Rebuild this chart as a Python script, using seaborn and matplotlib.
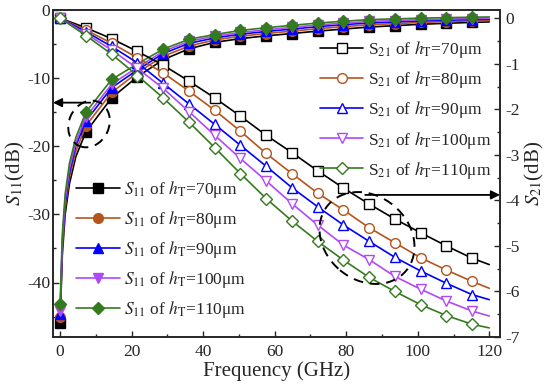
import numpy as np
import matplotlib
matplotlib.use("Agg")
import matplotlib.pyplot as plt
import seaborn as sns
from matplotlib.patches import Ellipse
from matplotlib.ticker import MultipleLocator

# frequency points (GHz): markers sit every 7.2 GHz, lines end at 120
freq_s11 = [0, 0.6, 1.4, 2.6, 4.4, 7.2, 14.4, 21.6, 28.8, 36, 43.2, 50.4, 57.6,
            64.8, 72, 79.2, 86.4, 93.6, 100.8, 108, 115.2, 120]
freq_s21 = [0, 7.2, 14.4, 21.6, 28.8, 36, 43.2, 50.4, 57.6, 64.8, 72, 79.2,
            86.4, 93.6, 100.8, 108, 115.2, 120]

heights = ["70", "80", "90", "100", "110"]

# S11 (dB), left axis
s11_70 = [-45.9, -36.0, -30.0, -25.5, -21.5, -17.9, -12.9, -9.8, -7.3, -5.7, -4.75, -4.2, -3.8,
          -3.45, -3.1, -2.8, -2.5, -2.3, -2.1, -1.95, -1.82, -1.75]
s11_80 = [-45.1, -35.2, -29.1, -24.6, -20.7, -17.0, -12.1, -9.2, -6.8, -5.3, -4.4, -3.85, -3.45,
          -3.1, -2.75, -2.45, -2.17, -2.0, -1.83, -1.7, -1.6, -1.53]
s11_90 = [-44.6, -34.5, -28.4, -23.9, -19.9, -16.3, -11.4, -8.8, -6.4, -4.9, -4.1, -3.55, -3.15,
          -2.8, -2.45, -2.15, -1.9, -1.75, -1.6, -1.5, -1.4, -1.35]
s11_100 = [-44.2, -33.9, -27.8, -23.3, -19.4, -15.7, -10.9, -8.4, -6.1, -4.6, -3.85, -3.3, -2.9,
           -2.55, -2.2, -1.93, -1.68, -1.55, -1.43, -1.33, -1.25, -1.2]
s11_110 = [-43.1, -33.0, -27.0, -22.5, -18.7, -15.0, -10.2, -7.9, -5.75, -4.3, -3.6, -3.0, -2.6,
           -2.25, -1.92, -1.65, -1.41, -1.3, -1.2, -1.12, -1.06, -1.02]

# S21 (dB), right axis
s21_70 = [0, -0.21, -0.45, -0.73, -1.03, -1.38, -1.75, -2.15, -2.57, -2.95, -3.35, -3.73,
          -4.08, -4.41, -4.71, -5.0, -5.27, -5.41]
s21_80 = [0, -0.26, -0.55, -0.87, -1.20, -1.60, -2.02, -2.48, -2.97, -3.41, -3.84, -4.21,
          -4.6, -4.93, -5.26, -5.53, -5.78, -5.93]
s21_90 = [0, -0.3, -0.62, -0.98, -1.43, -1.88, -2.33, -2.79, -3.25, -3.72, -4.14, -4.54,
          -4.9, -5.25, -5.55, -5.82, -6.07, -6.18]
s21_100 = [0, -0.34, -0.7, -1.1, -1.54, -2.05, -2.57, -3.08, -3.57, -4.07, -4.54, -4.98,
           -5.3, -5.67, -5.95, -6.21, -6.43, -6.54]
s21_110 = [0, -0.38, -0.79, -1.26, -1.75, -2.28, -2.84, -3.41, -3.96, -4.45, -4.9, -5.31,
           -5.69, -6.0, -6.29, -6.53, -6.72, -6.8]

s11_all = [s11_70, s11_80, s11_90, s11_100, s11_110]
s21_all = [s21_70, s21_80, s21_90, s21_100, s21_110]

colors = ["#000000", "#b5541c", "#0000ff", "#b048f8", "#347a1f"]
markers = ["s", "o", "^", "v", "D"]
msizes = [6.5, 7, 7.5, 7.5, 6]

sns.set_style("ticks")
plt.rcParams["font.family"] = ["Liberation Serif", "DejaVu Serif"]
plt.rcParams["mathtext.fontset"] = "stix"
plt.rcParams["axes.unicode_minus"] = False

fig = plt.figure(figsize=(5.5, 3.92), dpi=100)
ax = fig.add_axes([53 / 550, 1 - 337 / 392, 447 / 550, 327 / 392])
ax2 = ax.twinx()

# marker indices (skip the extra points near 0 and the end point)
mk11 = [0] + list(range(5, len(freq_s11) - 1))
mk21 = list(range(0, len(freq_s21) - 1))

for i in range(5):
    sns.lineplot(x=freq_s11, y=s11_all[i], ax=ax, color=colors[i], lw=1.2,
                 marker=markers[i], markevery=mk11, markersize=msizes[i],
                 markerfacecolor=colors[i], markeredgecolor=colors[i],
                 markeredgewidth=1.0, legend=False,
                 label="$S_{11}$ of $h_{\\mathrm{T}}$=" + heights[i] + "μm")
for i in range(5):
    sns.lineplot(x=freq_s21, y=s21_all[i], ax=ax2, color=colors[i], lw=1.2,
                 marker=markers[i], markevery=mk21, markersize=msizes[i],
                 markerfacecolor="white", markeredgecolor=colors[i],
                 markeredgewidth=1.0, legend=False,
                 label="S$_{21}$ of $h_{\\mathrm{T}}$=" + heights[i] + "μm")

ax.set_xlim(-2, 123)
ax.set_ylim(-48, 0)
ax2.set_ylim(-7, 0.18)

ax.xaxis.set_major_locator(MultipleLocator(20))
ax.xaxis.set_minor_locator(MultipleLocator(10))
ax.yaxis.set_major_locator(MultipleLocator(10))
ax.yaxis.set_minor_locator(MultipleLocator(5))
ax2.yaxis.set_major_locator(MultipleLocator(1))
ax2.yaxis.set_minor_locator(MultipleLocator(0.5))

for a in (ax, ax2):
    a.tick_params(which="major", direction="in", length=4, width=1, labelsize=12.5)
    a.tick_params(which="minor", direction="in", length=2.5, width=1)
    for s in a.spines.values():
        s.set_linewidth(1.2)
        s.set_visible(True)
ax.tick_params(axis="x", pad=5)
ax.tick_params(axis="y", pad=2)
ax2.tick_params(axis="y", pad=4)

ax.set_xlabel("Frequency (GHz)", fontsize=15, labelpad=1)
ax.set_ylabel("$S_{11}$(dB)", fontsize=15, labelpad=0)
ax2.set_ylabel("$S_{21}$(dB)", fontsize=15, labelpad=2)

# legends
leg_kw = dict(loc="upper left", frameon=False, fontsize=12.5, handlelength=2.5,
              handletextpad=0.25, labelspacing=0.52, borderpad=0, borderaxespad=0)
h1 = ax.get_lines()
leg1 = ax2.legend(handles=h1, bbox_to_anchor=(0.052, 0.484), **leg_kw)
ax2.add_artist(leg1)
h2 = ax2.get_lines()
ax2.legend(handles=h2, bbox_to_anchor=(0.597, 0.91), **leg_kw)

# dashed ellipses and arrows
e1 = Ellipse((0.89, 3.92 - 1.24), 0.40, 0.48, angle=-25, fill=False, ls=(0, (5, 3.5)),
             lw=1.4, color="k", transform=fig.dpi_scale_trans)
e2 = Ellipse((3.67, 3.92 - 2.38), 1.02, 0.84, angle=-40, fill=False, ls=(0, (5, 3.5)),
             lw=1.4, color="k", transform=fig.dpi_scale_trans)
fig.add_artist(e1)
fig.add_artist(e2)

ax.annotate("", xy=(-2, -13.6), xytext=(8.4, -13.6),
            arrowprops=dict(arrowstyle="-|>", color="k", lw=1.3, mutation_scale=13,
                            shrinkA=0, shrinkB=0))
ax2.annotate("", xy=(123, -3.88), xytext=(85.3, -3.88),
             arrowprops=dict(arrowstyle="-|>", color="k", lw=1.3, mutation_scale=13,
                             shrinkA=0, shrinkB=0))

fig.savefig("out.png", dpi=100)
